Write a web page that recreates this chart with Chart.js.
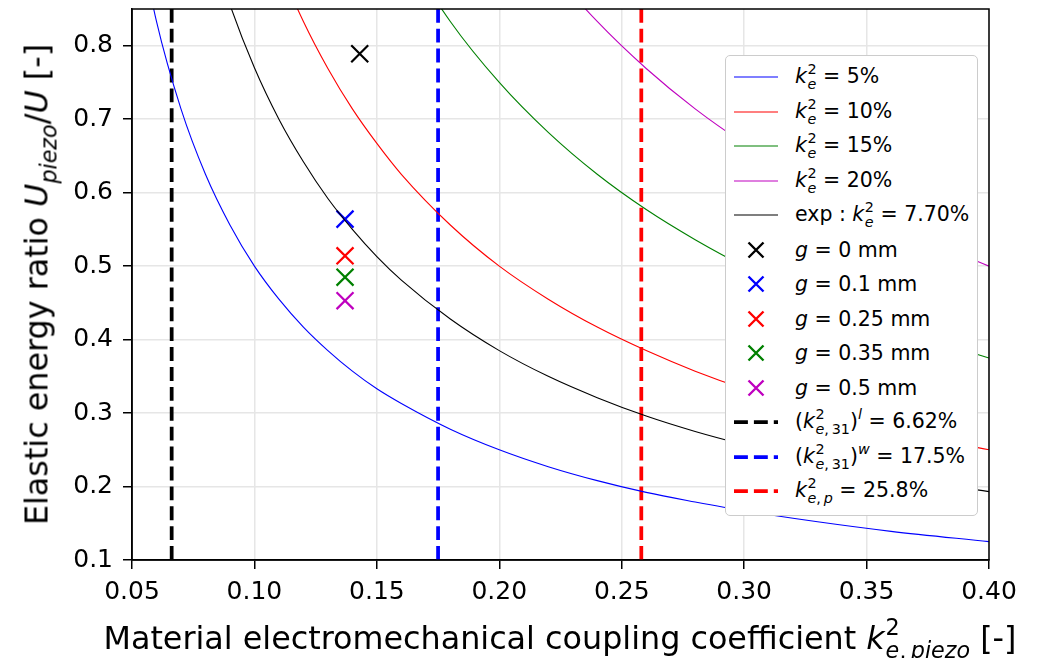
<!DOCTYPE html>
<html lang="en">

<head>
    <meta charset="UTF-8">
    <title>Elastic energy ratio</title>
    <script src="https://cdn.jsdelivr.net/npm/chart.js"></script>
    <style>
        body {
            margin: 0;
            background: #fff;
            font-family: "DejaVu Sans", sans-serif;
        }

        #wrap {
            position: relative;
            width: 1040px;
            height: 658px;
            overflow: hidden;
        }

        .title {
            position: absolute;
            font-size: 31.8px;
            line-height: 31px;
            height: 31px;
            white-space: nowrap;
            text-align: center;
            color: #000;
        }

        #xTitle {
            left: 0;
            width: 1120px;
            top: 616px;
        }

        #yTitle {
            left: -264px;
            top: 269px;
            width: 600px;
            transform: rotate(-90deg);
        }

        /* stacked superscript / subscript like mathtext */
        .ss {
            display: inline-block;
            font-size: 0.7em;
            line-height: 1.03;
            vertical-align: -0.41em;
            margin-left: 0.04em;
            text-align: left;
        }

        .ss > span {
            display: block;
        }

        .sb {
            font-size: 0.7em;
            vertical-align: -0.41em;
            line-height: 0;
        }

        .sp {
            font-size: 0.7em;
            vertical-align: 0.6em;
            line-height: 0;
        }

        #legend {
            position: absolute;
            left: 725px;
            top: 55px;
            width: 251px;
            height: 455px;
            border: 1px solid #cccccc;
            border-radius: 5px;
            background: #fff;
            padding-top: 4px;
            box-sizing: content-box;
        }

        .row {
            height: 34.5px;
            display: flex;
            align-items: center;
            font-size: 20.5px;
            white-space: nowrap;
        }

        .row svg {
            margin-left: 8px;
            margin-right: 17px;
            flex: none;
        }
    </style>
</head>

<body>
    <div id="wrap">
        <canvas id="myChart" width="1040" height="658"></canvas>
        <div class="title" id="xTitle">Material electromechanical coupling coefficient <i>k</i><span class="ss"><span>2</span><span><i>e</i>,&thinsp;<i>piezo</i></span></span> [-]</div>
        <div class="title" id="yTitle">Elastic energy ratio <i>U</i><span class="sb"><i>piezo</i></span>/<i>U</i> [-]</div>
        <div id="legend"></div>
    </div>

    <script>
        // values
        var kGrid = [0.05, 0.06, 0.07, 0.08, 0.09, 0.10, 0.11, 0.12, 0.13, 0.14, 0.15, 0.16,
            0.18, 0.20, 0.22, 0.24, 0.26, 0.28, 0.30, 0.33, 0.36, 0.40];
        var ratio5 = [1.00, 0.833, 0.714, 0.625, 0.556, 0.500, 0.455, 0.417, 0.385, 0.357, 0.333, 0.313,
            0.278, 0.250, 0.227, 0.208, 0.192, 0.179, 0.167, 0.152, 0.139, 0.125];
        var ratio10 = [2.00, 1.667, 1.429, 1.250, 1.111, 1.000, 0.909, 0.833, 0.769, 0.714, 0.667, 0.625,
            0.556, 0.500, 0.455, 0.417, 0.385, 0.357, 0.333, 0.303, 0.278, 0.250];
        var ratio15 = [3.00, 2.500, 2.143, 1.875, 1.667, 1.500, 1.364, 1.250, 1.154, 1.071, 1.000, 0.938,
            0.833, 0.750, 0.682, 0.625, 0.577, 0.536, 0.500, 0.455, 0.417, 0.375];
        var ratio20 = [4.00, 3.333, 2.857, 2.500, 2.222, 2.000, 1.818, 1.667, 1.538, 1.429, 1.333, 1.250,
            1.111, 1.000, 0.909, 0.833, 0.769, 0.714, 0.667, 0.606, 0.556, 0.500];
        var ratioExp = [1.54, 1.283, 1.100, 0.963, 0.856, 0.770, 0.700, 0.642, 0.592, 0.550, 0.513, 0.481,
            0.428, 0.385, 0.350, 0.321, 0.296, 0.275, 0.257, 0.233, 0.214, 0.193];

        // measured points for each gap g
        var gapK = [0.143, 0.137, 0.137, 0.137, 0.137];
        var gapRatio = [0.789, 0.564, 0.514, 0.485, 0.453];
        var gapColors = ['#000000', '#0000ff', '#ff0000', '#008000', '#bf00bf'];
        var gapLabels = ['0', '0.1', '0.25', '0.35', '0.5'];

        // reference coupling coefficients (vertical lines)
        var refK = [0.0662, 0.175, 0.258];
        var refColors = ['#000000', '#0000ff', '#ff0000'];

        var xTicks = [0.05, 0.10, 0.15, 0.20, 0.25, 0.30, 0.35, 0.40];
        var xTickLabels = ['0.05', '0.10', '0.15', '0.20', '0.25', '0.30', '0.35', '0.40'];
        var yTicks = [0.1, 0.2, 0.3, 0.4, 0.5, 0.6, 0.7, 0.8];
        var yTickLabels = ['0.1', '0.2', '0.3', '0.4', '0.5', '0.6', '0.7', '0.8'];
        var xRange = [0.05, 0.40];
        var yRange = [0.1, 0.85];

        var ke = '<i>k</i><span class="ss"><span>2</span><span><i>e</i></span></span>';
        var ke31 = '<i>k</i><span class="ss"><span>2</span><span><i>e</i>,&thinsp;31</span></span>';
        var kep = '<i>k</i><span class="ss"><span>2</span><span><i>e</i>,&thinsp;<i>p</i></span></span>';

        function pts(xs, ys) {
            return xs.map(function (x, i) { return { x: x, y: ys[i] }; });
        }

        var datasets = [];
        var legendHtml = [];

        function curve(ys, color, html) {
            datasets.push({
                data: pts(kGrid, ys),
                showLine: true,
                borderColor: color,
                borderWidth: 1.1,
                pointRadius: 0,
                cubicInterpolationMode: 'monotone'
            });
            legendHtml.push(html);
        }

        curve(ratio5, '#0000ff', ke + ' = 5%');
        curve(ratio10, '#ff0000', ke + ' = 10%');
        curve(ratio15, '#008000', ke + ' = 15%');
        curve(ratio20, '#bf00bf', ke + ' = 20%');
        curve(ratioExp, '#000000', 'exp : ' + ke + ' = 7.70%');

        gapK.forEach(function (k, i) {
            datasets.push({
                data: [{ x: k, y: gapRatio[i] }],
                pointStyle: 'crossRot',
                pointRadius: 12,
                pointBorderWidth: 2.2,
                borderColor: gapColors[i],
                backgroundColor: gapColors[i]
            });
            legendHtml.push('<i>g</i> = ' + gapLabels[i] + ' mm');
        });

        var refHtml = ['(' + ke31 + ')<span class="sp"><i>l</i></span> = 6.62%',
            '(' + ke31 + ')<span class="sp"><i>w</i></span> = 17.5%',
            kep + ' = 25.8%'];
        refK.forEach(function (k, i) {
            datasets.push({
                data: [{ x: k, y: yRange[0] }, { x: k, y: yRange[1] }],
                showLine: true,
                borderColor: refColors[i],
                borderWidth: 3.75,
                borderDash: [13.9, 6],
                pointRadius: 0
            });
            legendHtml.push(refHtml[i]);
        });

        var frame = {
            id: 'frame',
            afterDraw: function (chart) {
                var a = chart.chartArea, c = chart.ctx;
                c.save();
                c.strokeStyle = '#000';
                c.lineWidth = 1.5;
                c.strokeRect(a.left, a.top, a.right - a.left, a.bottom - a.top);
                c.restore();
            }
        };

        Chart.defaults.font.family = '"DejaVu Sans", sans-serif';
        Chart.defaults.color = '#000';

        var ctx = document.getElementById('myChart').getContext('2d');
        var myChart = new Chart(ctx, {
            type: 'scatter',
            data: { datasets: datasets },
            plugins: [frame],
            options: {
                responsive: false,
                devicePixelRatio: 1,
                animation: false,
                layout: { autoPadding: false, padding: { top: 9, right: 51, left: 0, bottom: 0 } },
                plugins: { legend: { display: false }, tooltip: { enabled: false } },
                scales: {
                    x: {
                        type: 'linear',
                        min: xRange[0],
                        max: xRange[1],
                        afterBuildTicks: function (s) { s.ticks = xTicks.map(function (v) { return { value: v }; }); },
                        afterFit: function (s) {
                            s.height = 98;
                            s.paddingLeft = 0;
                            s.paddingRight = 0;
                        },
                        ticks: {
                            font: { size: 25 },
                            padding: 8,
                            maxRotation: 0,
                            callback: function (v, i) { return xTickLabels[i]; }
                        },
                        grid: { color: '#e6e6e6', lineWidth: 1.5, tickColor: '#000', tickLength: 9, tickWidth: 1.5 },
                        border: { color: '#000', width: 1.5 }
                    },
                    y: {
                        type: 'linear',
                        min: yRange[0],
                        max: yRange[1],
                        afterBuildTicks: function (s) { s.ticks = yTicks.map(function (v) { return { value: v }; }); },
                        afterFit: function (s) {
                            s.width = 132;
                            s.paddingTop = 0;
                            s.paddingBottom = 0;
                        },
                        ticks: {
                            font: { size: 25 },
                            padding: 10,
                            callback: function (v, i) { return yTickLabels[i]; }
                        },
                        grid: { color: '#e6e6e6', lineWidth: 1.5, tickColor: '#000', tickLength: 9, tickWidth: 1.5 },
                        border: { color: '#000', width: 1.5 }
                    }
                }
            }
        });

        // legend built from the datasets
        var legend = document.getElementById('legend');
        myChart.data.datasets.forEach(function (ds, i) {
            var svg;
            var col = ds.borderColor;
            if (ds.pointStyle === 'crossRot') {
                svg = '<svg width="44" height="20"><path d="M14.5 2.5 L29.5 17.5 M29.5 2.5 L14.5 17.5" stroke="' + col +
                    '" stroke-width="2.4"/></svg>';
            } else {
                var dash = ds.borderDash ? ' stroke-dasharray="' + ds.borderDash.join(' ') + '"' : '';
                svg = '<svg width="44" height="20"><line x1="0" y1="10" x2="44" y2="10" stroke="' + col +
                    '" stroke-width="' + ds.borderWidth + '"' + dash + '/></svg>';
            }
            var row = document.createElement('div');
            row.className = 'row';
            row.innerHTML = svg + '<span>' + legendHtml[i] + '</span>';
            legend.appendChild(row);
        });
    </script>
</body>

</html>
